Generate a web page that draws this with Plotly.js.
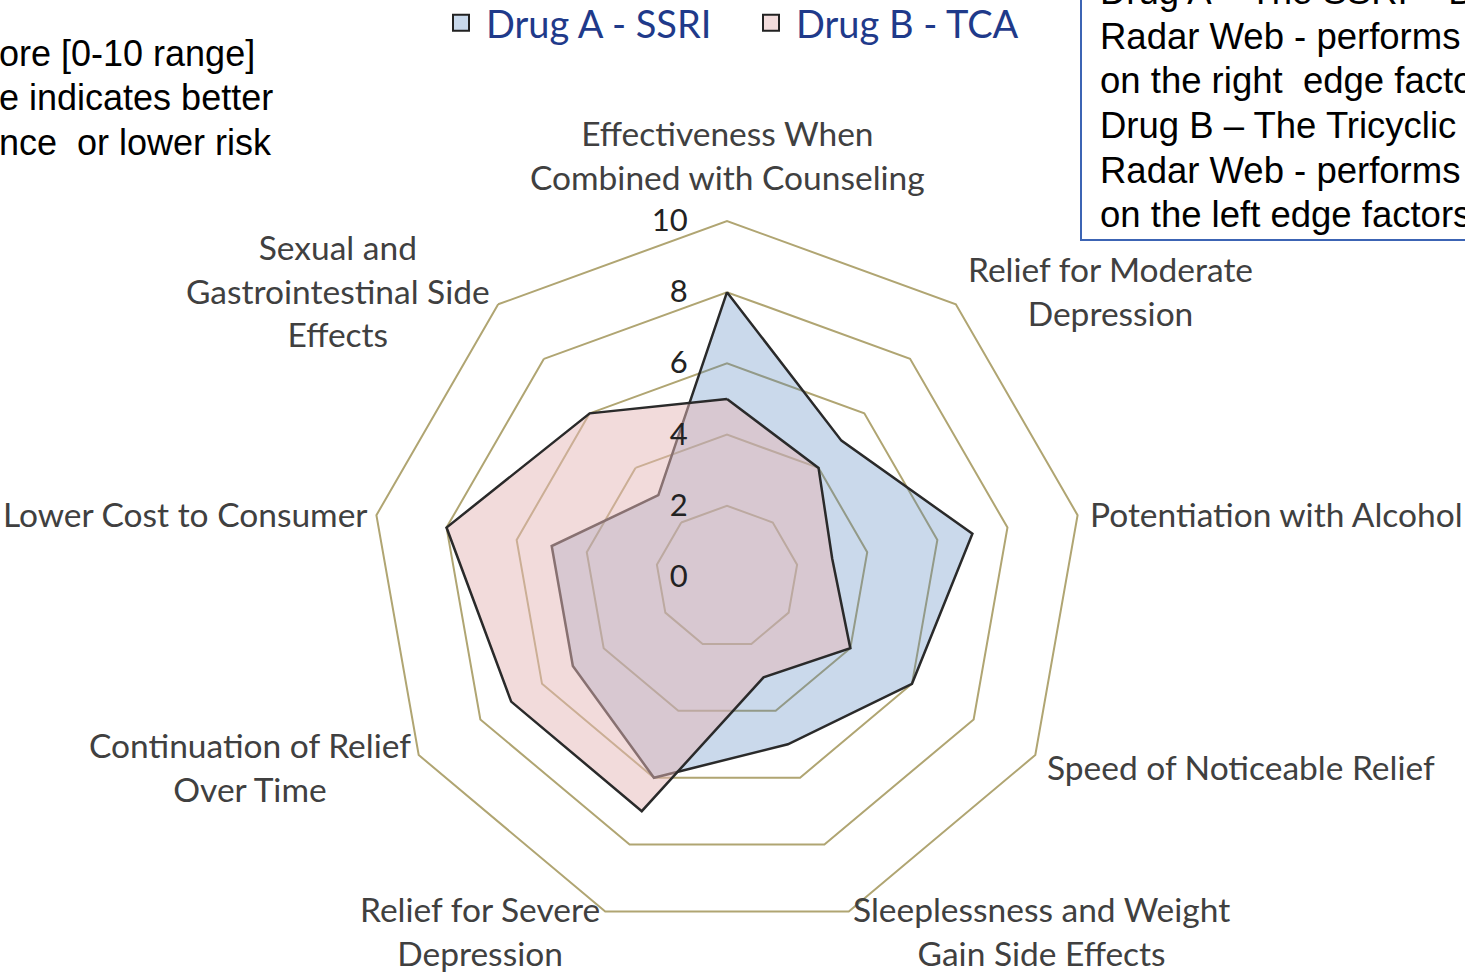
<!DOCTYPE html>
<html>
<head>
<meta charset="utf-8">
<script src="https://cdn.plot.ly/plotly-3.0.1.min.js"></script>
<style>
  html, body { margin: 0; padding: 0; background: #ffffff; }
  #chart { width: 1465px; height: 973px; }
</style>
</head>
<body>
<div id="chart"></div>
<script>
// ---- data ----
const categories = [
  'Effectiveness When<br>Combined with Counseling',
  'Relief for Moderate<br>Depression',
  'Potentiation with Alcohol',
  'Speed of Noticeable Relief',
  'Sleeplessness and Weight<br>Gain Side Effects',
  'Relief for Severe<br>Depression',
  'Continuation of Relief<br>Over Time',
  'Lower Cost to Consumer',
  'Sexual and<br>Gastrointestinal Side<br>Effects'
];
const drugA = [8, 5, 7, 6, 5, 6, 5, 5, 3];
const drugB = [5, 4, 3, 4, 3, 7, 7, 8, 6];
const seriesNames = ['Drug A - SSRI', 'Drug B - TCA'];
const radialTicks = [0, 2, 4, 6, 8, 10];
const noteLeft = ['ore [0-10 range]', 'e indicates better', 'nce \u00a0or lower risk'];
const noteRight = [
  'Drug A \u2013 The SSRI \u2013 B',
  'Radar Web - performs',
  'on the right \u00a0edge facto',
  'Drug B \u2013 The Tricyclic',
  'Radar Web - performs',
  'on the left edge factors'
];

// ---- build ----
const W = 1465, H = 973;
function closed(a) { return a.concat([a[0]]); }
const gridCol = '#b0a572';
const outline = '#2a2a2a';
const cx = 727, cy = 577, R = 356;
const px = x => x / W;
const py = y => 1 - y / H;

const traces = [
  {
    type: 'scatterpolar', mode: 'lines',
    r: closed(drugA), theta: closed(categories),
    fill: 'toself', fillcolor: 'rgba(79,129,189,0.30)',
    line: { color: outline, width: 2.5 },
    name: seriesNames[0], showlegend: false, hoverinfo: 'skip'
  },
  {
    type: 'scatterpolar', mode: 'lines',
    r: closed(drugB), theta: closed(categories),
    fill: 'toself', fillcolor: 'rgba(229,183,183,0.50)',
    line: { color: outline, width: 2.5 },
    name: seriesNames[1], showlegend: false, hoverinfo: 'skip'
  },
  {
    type: 'scatterpolar', mode: 'markers', r: [null], theta: [categories[0]],
    name: seriesNames[0], hoverinfo: 'skip',
    marker: { symbol: 'square', size: 16, color: '#c9d9ec', line: { color: '#222', width: 2 } }
  },
  {
    type: 'scatterpolar', mode: 'markers', r: [null], theta: [categories[0]],
    name: seriesNames[1], hoverinfo: 'skip',
    marker: { symbol: 'square', size: 16, color: '#f2dcdc', line: { color: '#222', width: 2 } }
  }
];

// category labels placed just outside the outer ring, Excel-style (centered text blocks)
const labelFont = { family: 'Lato, sans-serif', size: 33.5, color: '#404040' };
const catAnnots = categories.map((c, i) => {
  const th = i * 2 * Math.PI / categories.length;
  const s = Math.sin(th), co = Math.cos(th);
  const vx = cx + R * s, vy = cy - R * co;
  let x, y, xa, ya = 'middle';
  if (Math.abs(s) < 0.2) {           // top
    x = vx; y = vy - 22; xa = 'center'; ya = 'bottom';
  } else if (co < -0.8) {            // bottom pair
    x = vx + (s > 0 ? 2 : -3); y = vy + 19; xa = s > 0 ? 'left' : 'right';
  } else {                           // sides
    x = vx + (s > 0 ? 10 : -6); y = vy + 2 - 20 * co; xa = s > 0 ? 'left' : 'right';
  }
  return {
    xref: 'paper', yref: 'paper', x: px(x), y: py(y), xanchor: xa, yanchor: ya,
    align: 'center', showarrow: false, text: c, font: labelFont
  };
});

const noteFont = { family: 'Liberation Sans, Arial, sans-serif', size: 36, color: '#000' };
const leftAnnots = noteLeft.map((t, i) => ({
  xref: 'paper', yref: 'paper', x: 0, y: py(53 + i * 44.5), xanchor: 'left', yanchor: 'middle',
  xshift: -3, showarrow: false, text: t, font: noteFont
}));
const rightAnnots = noteRight.map((t, i) => ({
  xref: 'paper', yref: 'paper', x: px(1098), y: py(-8 + i * 44.5), xanchor: 'left', yanchor: 'middle',
  showarrow: false, text: t, font: Object.assign({}, noteFont, { size: 36.5 })
}));

const layout = {
  width: W, height: H,
  margin: { l: 0, r: 0, t: 0, b: 0, pad: 0, autoexpand: false },
  paper_bgcolor: '#ffffff',
  font: { family: 'Lato, sans-serif', color: '#404040' },
  showlegend: true,
  legend: {
    orientation: 'h', x: px(436), xanchor: 'left', y: py(23), yanchor: 'middle',
    font: { family: 'Lato, sans-serif', size: 38, color: '#1f3a8a' },
    bgcolor: 'rgba(0,0,0,0)', entrywidth: 255, entrywidthmode: 'pixels',
    itemwidth: 40
  },
  polar: {
    domain: { x: [px(cx - R), px(cx + R)], y: [py(cy + R), py(cy - R)] },
    bgcolor: 'rgba(0,0,0,0)',
    gridshape: 'linear',
    angularaxis: {
      rotation: 90, direction: 'clockwise',
      showline: true, linecolor: gridCol, linewidth: 2,
      showgrid: false, ticks: '', showticklabels: false
    },
    radialaxis: {
      range: [0, 10], tickvals: radialTicks, angle: 90, tickangle: 90,
      side: 'counterclockwise',
      showline: false, showgrid: true, gridcolor: gridCol, gridwidth: 2,
      ticks: 'outside', ticklen: 28, tickcolor: 'rgba(0,0,0,0)',
      tickfont: { family: 'Lato, sans-serif', size: 31, color: '#222' }
    }
  },
  shapes: [
    {
      type: 'rect', xref: 'paper', yref: 'paper',
      x0: px(1081), x1: 1.1, y0: py(240), y1: 1.1,
      line: { color: '#3c64b4', width: 2 }, fillcolor: 'rgba(0,0,0,0)'
    }
  ],
  annotations: catAnnots.concat(leftAnnots, rightAnnots)
};

Plotly.newPlot('chart', traces, layout, { displayModeBar: false, responsive: false });
</script>
</body>
</html>
